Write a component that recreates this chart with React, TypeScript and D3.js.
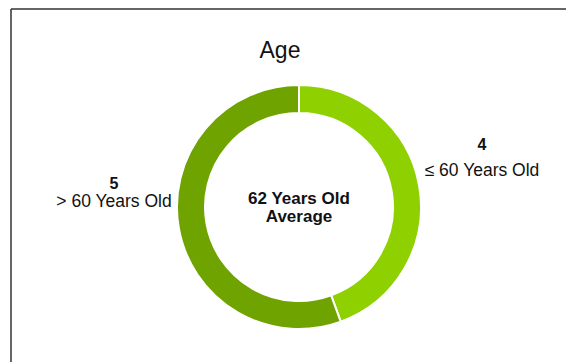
import React from "react";
import * as d3 from "d3";

const categories = ["≤ 60 Years Old", "> 60 Years Old"];
const counts = [4, 5];
const colors = ["#8fd000", "#6fa300"];
const title = "Age";
const centerLines = ["62 Years Old", "Average"];

const W = 566;
const H = 362;
const cx = 299;
const cy = 207;
const rOuter = 122;
const rInner = 94;

export default function App() {
  const pie = d3.pie<number>().sort(null).value((d) => d)(counts);
  const arc = d3.arc<d3.PieArcDatum<number>>().innerRadius(rInner).outerRadius(rOuter);
  const font = "Liberation Sans, Arial, sans-serif";
  const labelPos = [
    { x: 482, y1: 150, y2: 176 },
    { x: 114, y1: 189, y2: 207 },
  ];
  return (
    <svg
      width={W}
      height={H}
      style={{ position: "absolute", left: 0, top: 0, background: "#fff" }}
      fontFamily={font}
    >
      <rect x={0} y={0} width={W} height={H} fill="#fff" />
      <line x1={11} y1={9} x2={W} y2={9} stroke="#333" strokeWidth={1.5} />
      <line x1={11} y1={9} x2={11} y2={H} stroke="#333" strokeWidth={1.5} />
      <text x={280} y={58} textAnchor="middle" fontSize={23} fill="#111">
        {title}
      </text>
      <g transform={`translate(${cx},${cy})`}>
        {pie.map((p, i) => (
          <path key={i} d={arc(p) || ""} fill={colors[i]} stroke="#fff" strokeWidth={2} />
        ))}
      </g>
      {centerLines.map((t, i) => (
        <text
          key={i}
          x={cx}
          y={cy - 3 + i * 18}
          textAnchor="middle"
          fontSize={17}
          fontWeight="bold"
          fill="#111"
        >
          {t}
        </text>
      ))}
      {categories.map((c, i) => (
        <g key={i}>
          <text x={labelPos[i].x} y={labelPos[i].y1} textAnchor="middle" fontSize={16} fontWeight="bold" fill="#111">
            {counts[i]}
          </text>
          <text x={labelPos[i].x} y={labelPos[i].y2} textAnchor="middle" fontSize={17.5} fill="#111">
            {c}
          </text>
        </g>
      ))}
    </svg>
  );
}
